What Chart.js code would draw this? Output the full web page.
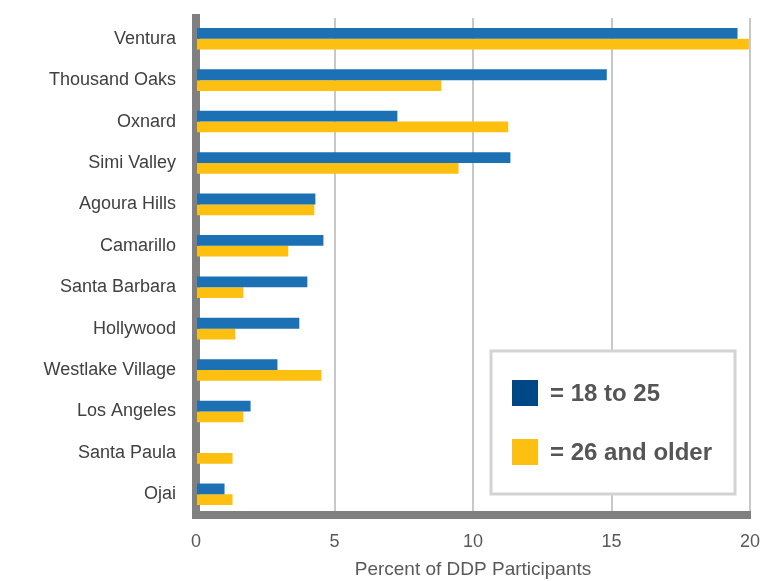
<!DOCTYPE html>
<html>
<head>
<meta charset="utf-8">
<style>
  html, body { margin: 0; padding: 0; background: #fff; }
  #wrap { width: 784px; height: 581px; }
</style>
<script src="https://cdn.jsdelivr.net/npm/chart.js@4/dist/chart.umd.min.js"></script>
</head>
<body>
<div id="wrap"><canvas id="myChart" width="784" height="581"></canvas></div>
<script>
// data
const cities = ['Ventura', 'Thousand Oaks', 'Oxnard', 'Simi Valley', 'Agoura Hills', 'Camarillo',
  'Santa Barbara', 'Hollywood', 'Westlake Village', 'Los Angeles', 'Santa Paula', 'Ojai'];
const age18to25 = [19.55, 14.83, 7.27, 11.35, 4.31, 4.6, 4.02, 3.73, 2.94, 1.97, 0, 1.03];
const age26plus = [19.96, 8.86, 11.27, 9.48, 4.27, 3.33, 1.71, 1.42, 4.53, 1.71, 1.32, 1.32];
const xTicks = [0, 5, 10, 15, 20];
const legendLabels = ['= 18 to 25', '= 26 and older'];

const FONT = "'Liberation Sans', Arial, sans-serif";

// legend drawn inside the plot, lower right, with a grey frame
const boxLegend = {
  id: 'boxLegend',
  afterDraw(chart) {
    const { ctx, chartArea } = chart;
    const w = 244, h = 143;
    const x = chartArea.right - 15 - w;
    const y = chartArea.bottom - 21 - h;
    ctx.save();
    ctx.fillStyle = '#fff';
    ctx.fillRect(x, y, w, h);
    ctx.strokeStyle = '#d3d3d3';
    ctx.lineWidth = 3;
    ctx.strokeRect(x, y, w, h);
    const swatches = ['#004785', '#fdc010'];
    const rows = [y + 42, y + 101];
    ctx.font = 'bold 24px ' + FONT;
    ctx.textBaseline = 'middle';
    legendLabels.forEach((lab, i) => {
      ctx.fillStyle = swatches[i];
      ctx.fillRect(x + 21, rows[i] - 13, 26, 26);
      ctx.fillStyle = '#555555';
      ctx.fillText(lab, x + 59, rows[i] + 1);
    });
    ctx.restore();
  }
};

document.addEventListener('DOMContentLoaded', () => {
  const ctx = document.getElementById('myChart');
  new Chart(ctx, {
    type: 'bar',
    data: {
      labels: cities,
      datasets: [{
        label: '18 to 25',
        data: age18to25,
        backgroundColor: '#1b71b3',
        barPercentage: 1,
        categoryPercentage: 0.52
      }, {
        label: '26 and older',
        data: age26plus,
        backgroundColor: '#fdc010',
        barPercentage: 1,
        categoryPercentage: 0.52
      }]
    },
    options: {
      indexAxis: 'y',
      responsive: false,
      animation: false,
      layout: { padding: { top: 18, right: 34, left: 0, bottom: 0 } },
      plugins: {
        legend: { display: false },
        tooltip: { enabled: false }
      },
      scales: {
        x: {
          min: 0,
          max: 20,
          afterBuildTicks: (axis) => { axis.ticks = xTicks.map(v => ({ value: v })); },
          afterFit: (axis) => { axis.height = 66; axis.paddingLeft = 0; axis.paddingRight = 0; },
          grid: { color: '#c8c8c8', lineWidth: 2, drawTicks: false },
          border: { color: '#808080', width: 8 },
          ticks: {
            padding: 16,
            color: '#595959',
            font: { family: FONT, size: 18 }
          },
          title: {
            display: true,
            text: 'Percent of DDP Participants',
            color: '#595959',
            font: { family: FONT, size: 19 },
            padding: { top: 4, bottom: 0 }
          }
        },
        y: {
          afterFit: (axis) => { axis.width = 196; axis.paddingTop = 0; axis.paddingBottom = 0; },
          grid: { display: false, drawTicks: false },
          border: { color: '#808080', width: 8 },
          ticks: {
            padding: 20,
            color: '#404040',
            font: { family: FONT, size: 18 }
          }
        }
      }
    },
    plugins: [boxLegend]
  });
});
</script>
</body>
</html>
